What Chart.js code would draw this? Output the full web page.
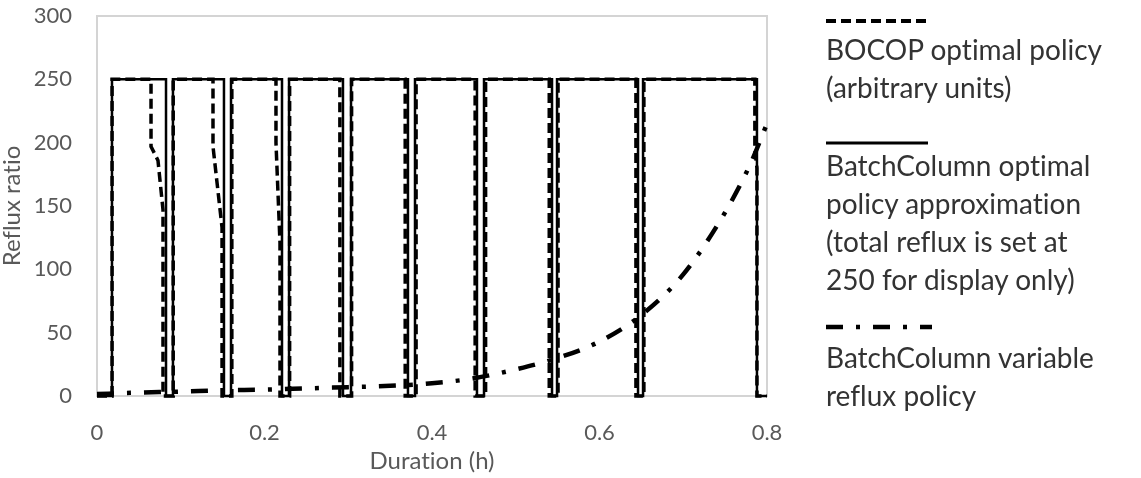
<!DOCTYPE html>
<html>
<head>
<meta charset="utf-8">
<script src="https://cdn.jsdelivr.net/npm/chart.js@4.4.1/dist/chart.umd.min.js"></script>
<style>
  html, body { margin: 0; padding: 0; background: #fff; }
  #wrap { position: relative; width: 1141px; height: 478px; overflow: hidden; }
  #chart { position: absolute; left: 0; top: 0; }
  .leg-text {
    position: absolute;
    left: 826px;
    font-family: Lato, sans-serif;
    font-size: 28px;
    line-height: 38px;
    color: #333;
    white-space: nowrap;
    font-variant-ligatures: none;
  }
  .leg-line { position: absolute; left: 826px; }
</style>
</head>
<body>
<div id="wrap">
  <canvas id="chart" width="1141" height="478"></canvas>

  <svg class="leg-line" style="top:15px" width="110" height="12">
    <line x1="0" y1="6" x2="104" y2="6" stroke="#000" stroke-width="4" stroke-dasharray="10 5"/>
  </svg>
  <div class="leg-text" style="top:30px">BOCOP optimal policy<br>(arbitrary units)</div>

  <svg class="leg-line" style="top:137px" width="110" height="12">
    <line x1="0" y1="6" x2="102" y2="6" stroke="#000" stroke-width="3"/>
  </svg>
  <div class="leg-text" style="top:146px">BatchColumn optimal<br>policy approximation<br>(total reflux is set at<br>250 for display only)</div>

  <svg class="leg-line" style="top:321px" width="110" height="12">
    <line x1="0" y1="6" x2="106" y2="6" stroke="#000" stroke-width="4.5" stroke-dasharray="17 13 4 13"/>
  </svg>
  <div class="leg-text" style="top:338px">BatchColumn variable<br>reflux policy</div>
</div>

<script>
// axes
const xTicks = [0, 0.2, 0.4, 0.6, 0.8];
const yTicks = [0, 50, 100, 150, 200, 250, 300];

// BatchColumn optimal policy approximation: total reflux on these intervals, 0 elsewhere
const totalReflux = 250;
const refluxOnStart = [0.0179, 0.0907, 0.160, 0.2293, 0.3033, 0.3797, 0.4621, 0.5493, 0.652];
const refluxOnEnd   = [0.0824, 0.1516, 0.2209, 0.2937, 0.3713, 0.4537, 0.5433, 0.646, 0.788];

// BOCOP optimal policy (arbitrary units)
const bocopTime = [
  0, 0.018, 0.018, 0.0645, 0.0645, 0.0728, 0.0788, 0.0788,
  0.091, 0.091, 0.1385, 0.1385, 0.1493, 0.1493,
  0.161, 0.161, 0.2137, 0.2137, 0.2185, 0.2185,
  0.230, 0.230, 0.290, 0.290,
  0.304, 0.304, 0.368, 0.368,
  0.381, 0.381, 0.4515, 0.4515,
  0.464, 0.464, 0.540, 0.540,
  0.5505, 0.5505, 0.6435, 0.6435,
  0.653, 0.653, 0.7855, 0.7855, 0.788, 0.788, 0.8
];
const bocopValue = [
  0, 0, 250, 250, 197, 186, 147, 0,
  0, 250, 250, 197, 133, 0,
  0, 250, 250, 200, 121, 0,
  0, 250, 250, 0,
  0, 250, 250, 0,
  0, 250, 250, 0,
  0, 250, 250, 0,
  0, 250, 250, 0,
  0, 250, 250, 195, 180, 0, 0
];

// BatchColumn variable reflux policy
const variableTime  = [0, 0.04, 0.1, 0.15, 0.2, 0.25, 0.3, 0.35, 0.4, 0.45, 0.5, 0.55, 0.6, 0.65, 0.7, 0.75, 0.78, 0.8];
const variableValue = [1.5, 2.5, 3.5, 4.5, 5, 6, 7, 8, 10, 14, 21, 30, 43, 64, 96, 145, 183, 215];

const tickColor = '#595959';
const fontFamily = 'Lato, sans-serif';

// build the square wave of the optimal policy approximation
const optimalPoints = [{ x: 0, y: 0 }];
refluxOnStart.forEach((t, i) => {
    optimalPoints.push({ x: t, y: 0 });
    optimalPoints.push({ x: t, y: totalReflux });
    optimalPoints.push({ x: refluxOnEnd[i], y: totalReflux });
    optimalPoints.push({ x: refluxOnEnd[i], y: 0 });
});
optimalPoints.push({ x: 0.8, y: 0 });

const bocopPoints = bocopTime.map((t, i) => ({ x: t, y: bocopValue[i] }));
const variablePoints = variableTime.map((t, i) => ({ x: t, y: variableValue[i] }));

// light grey frame round the plot area
const plotFrame = {
    id: 'plotFrame',
    beforeDraw(chart) {
        // no "ti" ligature in the canvas text
        chart.ctx.textRendering = 'optimizeSpeed';
    },
    beforeDatasetsDraw(chart) {
        const { ctx, chartArea: a } = chart;
        ctx.save();
        ctx.strokeStyle = '#d4d4d4';
        ctx.lineWidth = 2;
        ctx.strokeRect(a.left, a.top, a.right - a.left, a.bottom - a.top);
        ctx.restore();
    }
};

new Chart(document.getElementById('chart'), {
    type: 'line',
    data: {
        datasets: [
            {
                label: 'BOCOP optimal policy (arbitrary units)',
                data: bocopPoints,
                borderColor: '#000',
                borderWidth: 3.5,
                borderDash: [10, 5],
                pointRadius: 0,
                tension: 0,
                clip: 6
            },
            {
                label: 'BatchColumn optimal policy approximation',
                data: optimalPoints,
                borderColor: '#000',
                borderWidth: 2.5,
                borderJoinStyle: 'miter',
                pointRadius: 0,
                tension: 0,
                clip: 6
            },
            {
                label: 'BatchColumn variable reflux policy',
                data: variablePoints,
                borderColor: '#000',
                borderWidth: 4.5,
                borderDash: [17, 13, 4, 13],
                pointRadius: 0,
                cubicInterpolationMode: 'monotone',
                clip: 6
            }
        ]
    },
    options: {
        responsive: false,
        animation: false,
        layout: { padding: { left: 0, right: 374, top: 16, bottom: 0 } },
        plugins: {
            legend: { display: false },
            tooltip: { enabled: false }
        },
        scales: {
            x: {
                type: 'linear',
                min: 0,
                max: 0.8,
                afterBuildTicks: s => { s.ticks = xTicks.map(v => ({ value: v })); },
                afterFit: s => { s.height = 82; },
                // invisible tick marks used as the gap between axis and labels
                grid: { display: false, drawTicks: true, tickLength: 24 },
                border: { display: false },
                ticks: {
                    padding: 0,
                    color: tickColor,
                    font: { family: fontFamily, size: 22 },
                    callback: v => String(v)
                },
                title: {
                    display: true,
                    text: 'Duration (h)',
                    color: tickColor,
                    font: { family: fontFamily, size: 24, lineHeight: 1 },
                    padding: { top: 0, bottom: 5 }
                }
            },
            y: {
                min: 0,
                max: 300,
                afterBuildTicks: s => { s.ticks = yTicks.map(v => ({ value: v })); },
                afterFit: s => { s.width = 97; },
                grid: { display: false, drawTicks: true, tickLength: 25 },
                border: { display: false },
                ticks: {
                    padding: 0,
                    color: tickColor,
                    font: { family: fontFamily, size: 22 }
                },
                title: {
                    display: true,
                    text: 'Reflux ratio',
                    color: tickColor,
                    font: { family: fontFamily, size: 24, lineHeight: 1 },
                    padding: { top: 0, bottom: 0 }
                }
            }
        }
    },
    plugins: [plotFrame]
});
</script>
</body>
</html>
